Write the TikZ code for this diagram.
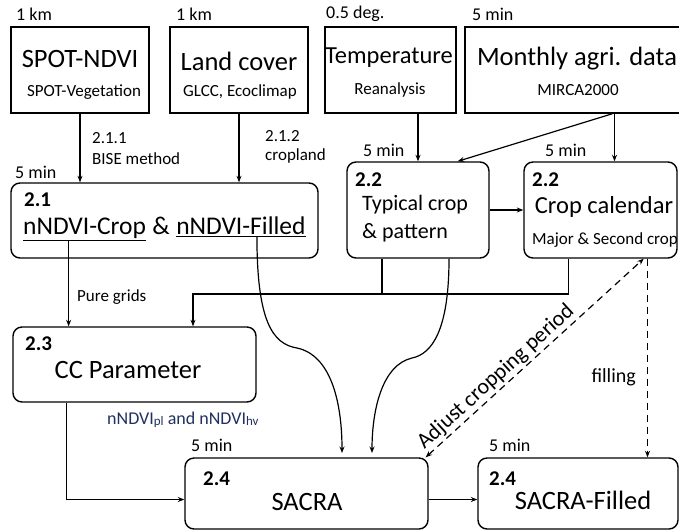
\documentclass[tikz,border=0pt]{standalone}
\usepackage{fontspec}
\setmainfont{Carlito}
\usetikzlibrary{arrows.meta, positioning, calc}

\definecolor{navy}{RGB}{32,48,96}

\tikzset{
    srcbox/.style={
        rectangle, draw=black, line width=1.4pt, inner sep=0pt
    },
    stepbox/.style={
        rectangle, rounded corners=9pt, draw=black, line width=1.4pt, inner sep=0pt
    },
    big/.style={font=\fontsize{26.5}{28}\selectfont, inner sep=0pt},
    mid/.style={font=\fontsize{25.5}{27}\selectfont, inner sep=0pt},
    sub/.style={font=\fontsize{17}{19}\selectfont, inner sep=0pt},
    num/.style={font=\fontsize{21}{23}\selectfont\bfseries, anchor=west, inner sep=0pt},
    lbl/.style={font=\fontsize{17}{19}\selectfont, anchor=west, inner sep=0pt},
    res/.style={font=\fontsize{18}{20}\selectfont, anchor=west, inner sep=0pt},
    arrow/.style={
        line width=1.2pt, -{Stealth[length=6.5pt,width=5pt]}
    },
    dasharrow/.style={
        line width=1.2pt, dash pattern=on 7pt off 5pt
    }
}

\begin{document}
\begin{tikzpicture}[x=1pt, y=-1pt]
    \useasboundingbox (0,0) rectangle (679,531);

    % Sources
    \node[srcbox, minimum width=138pt, minimum height=86pt] (spot) at (80,70) {};
    \node[srcbox, minimum width=138pt, minimum height=86pt] (land) at (239,70) {};
    \node[srcbox, minimum width=131pt, minimum height=86pt] (temp) at (390.5,70) {};
    \node[srcbox, minimum width=217pt, minimum height=86pt] (agri) at (573.5,70) {};

    \node[res] (kmA) at (16,14) {1 km};
    \node[res] (kmB) at (176,14) {1 km};
    \node[res] (deg) at (326,14) {0.5 deg.};
    \node[res] (minA) at (472,14) {5 min};

    \node[big] (spotT) at (80,59) {SPOT-NDVI};
    \node[sub] (spotS) at (84,92) {SPOT-Vegetation};
    \node[big] (landT) at (239,61) {Land cover};
    \node[sub] (landS) at (240,92) {GLCC, Ecoclimap};
    \node[big, font=\fontsize{24.5}{26}\selectfont] (tempT) at (389,58) {Temperature};
    \node[sub] (tempS) at (390,90) {Reanalysis};
    \node[big] (agriT) at (577,59) {Monthly agri. data};
    \node[sub] (agriS) at (578,90) {MIRCA2000};

    % Steps
    \node[stepbox, minimum width=307pt, minimum height=75pt] (s21) at (164.5,220.5) {};
    \node[num] (n21) at (24,200) {2.1};
    \node[mid, anchor=west] (ncrop) at (23,229) {\underline{nNDVI-Crop}};
    \node[mid, base right=0pt of ncrop, inner xsep=6pt] (amp) {\&};
    \node[mid, base right=0pt of amp] (nfill) {\underline{nNDVI-Filled}};
    \node[res] (minB) at (15,172) {5 min};

    \node[stepbox, minimum width=142pt, minimum height=96pt] (typ) at (418,210) {};
    \node[num] (n22a) at (355,180) {2.2};
    \node[big, anchor=west, font=\fontsize{22}{24}\selectfont] (typT) at (362,205) {Typical crop};
    \node[big, anchor=west, font=\fontsize{22}{24}\selectfont] (typS) at (362,233) {\& pattern};
    \node[res] (minC) at (363,150) {5 min};

    \node[stepbox, minimum width=153pt, minimum height=96pt] (cal) at (600.5,210) {};
    \node[num] (n22b) at (532,180) {2.2};
    \node[big, font=\fontsize{24.5}{26}\selectfont] (calT) at (604,207) {Crop calendar};
    \node[sub] (calS) at (605,240) {Major \& Second crop};
    \node[res] (minD) at (545,150) {5 min};

    \node[stepbox, minimum width=243pt, minimum height=75pt] (s23) at (134.5,364.5) {};
    \node[num] (n23) at (25,344) {2.3};
    \node[big] (ccT) at (128,370) {CC Parameter};

    \node[stepbox, minimum width=243pt, minimum height=71pt] (sacra) at (306.5,493.5) {};
    \node[num] (n24a) at (203,479) {2.4};
    \node[big] (sacraT) at (307,502) {SACRA};
    \node[res] (minE) at (191,445) {5 min};

    \node[stepbox, minimum width=200pt, minimum height=71pt] (filled) at (578,493.5) {};
    \node[num] (n24b) at (489,479) {2.4};
    \node[big] (filledT) at (583,500) {SACRA-Filled};
    \node[res] (minF) at (489,445) {5 min};

    % Labels
    \node[lbl] (biseA) at (92,138) {2.1.1};
    \node[lbl] (biseB) at (92,159) {BISE method};
    \node[lbl] (cropA) at (265,136) {2.1.2};
    \node[lbl] (cropB) at (265,156) {cropland};
    \node[lbl] (pure) at (77,297) {Pure grids};
    \node[res, text=navy] (ndv) at (107,420) {nNDVI\raisebox{-1pt}{\fontsize{13}{13}\selectfont pl} and nNDVI\raisebox{-1pt}{\fontsize{13}{13}\selectfont hv}};
    \node[lbl, anchor=east, font=\fontsize{20}{22}\selectfont] (fill) at (636,377) {filling};

    % Relationships
    \coordinate (bus) at (193,294);
    \coordinate (agrib) at ([xshift=12pt]cal.north |- agri.south);

    \draw[arrow] (spot) -- (spot |- s21.north);
    \draw[arrow] (land) -- (land |- s21.north);
    \draw[arrow] (temp.south -| typ) -- (typ);
    \draw[arrow] ([xshift=14pt]cal.north |- agri.south) -- ([xshift=14pt]cal.north);
    \draw[arrow] (agrib) -- ([xshift=-32pt]typ.north east);
    \draw[arrow] (typ.east) -- (cal.west);

    \draw[line width=1.2pt] ([xshift=-36pt]typ.south) -- ([xshift=-36pt]typ.south |- bus);
    \draw[arrow] ([xshift=-32pt]cal.south) |- (bus) -- (bus |- s23.north);
    \draw[arrow] ([xshift=-16pt]ncrop.south) -- ([xshift=-16pt]ncrop.south |- s23.north);

    \draw[arrow] ([xshift=16pt]nfill.south) .. controls (257,320) and (272,344) .. (297,348)
        .. controls (330,355) and (342,400) .. (342,453);
    \draw[arrow] ([xshift=31pt]typ.south) .. controls (449,330) and (432,354) .. (412,358)
        .. controls (382,365) and (372,410) .. (372,453);

    \draw[arrow] ([xshift=-68pt]s23.south) |- ([yshift=-6pt]sacra.west);
    \draw[arrow] ([yshift=-6pt]sacra.east) -- ([yshift=-6pt]sacra.east -| filled.west);

    \draw[dasharrow, {Stealth[length=6.5pt,width=5pt]}-{Stealth[length=6.5pt,width=5pt]}]
        ([xshift=-3pt]sacra.north east) -- ([xshift=-34pt]cal.south east)
        node[pos=0.36, sloped, above, inner sep=2pt, font=\fontsize{22}{24}\selectfont] (adj) {Adjust cropping period};
    \draw[dasharrow, -{Stealth[length=6.5pt,width=5pt]}] ([xshift=47pt]cal.south) -- ([xshift=47pt]cal.south |- filled.north);

\end{tikzpicture}
\end{document}
